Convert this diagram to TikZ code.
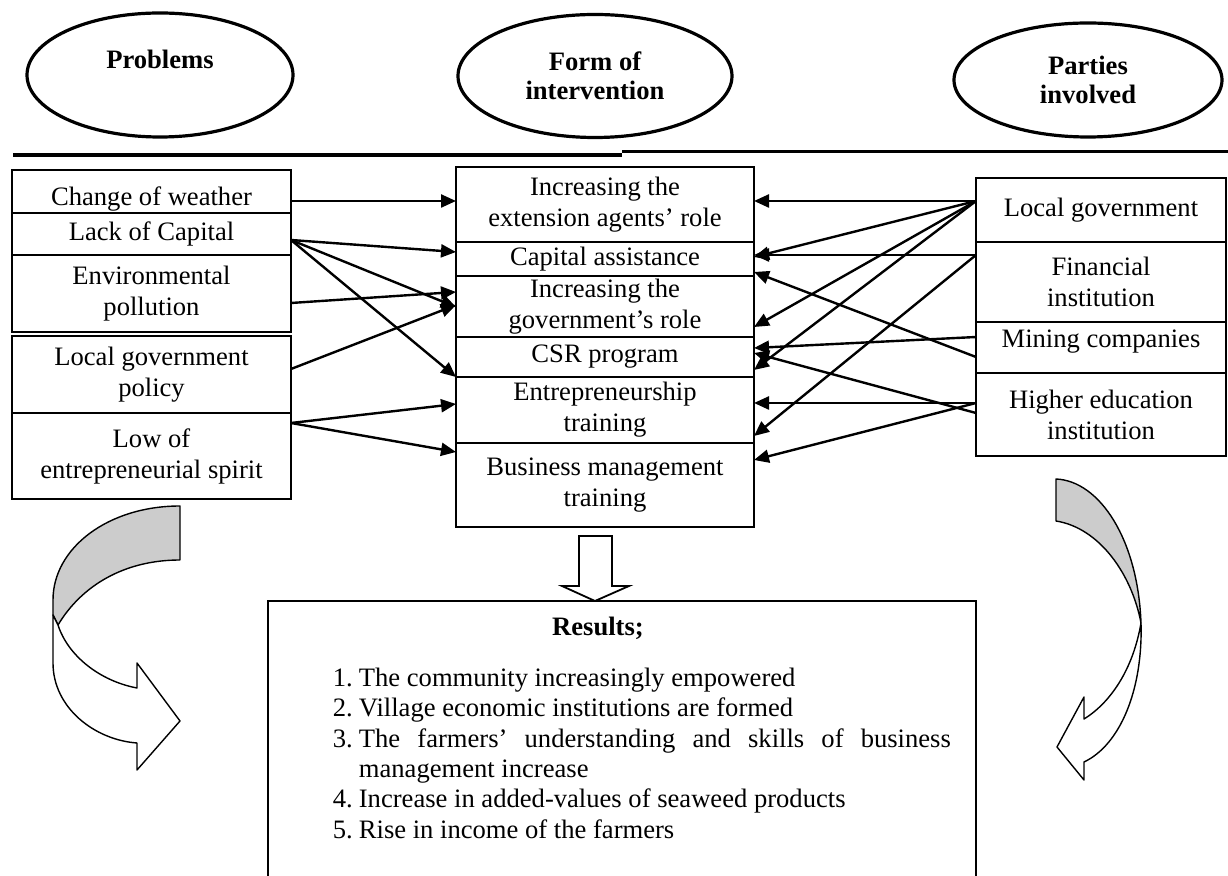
\documentclass[tikz,border=0pt]{standalone}
\usepackage{fontspec}
\setmainfont{Liberation Serif}
\usetikzlibrary{shapes.geometric, arrows.meta}

\begin{document}
\begin{tikzpicture}[x = 0.5pt, y = -0.5pt, line width = 0.9pt,
    head/.style = {ellipse, draw, line width = 1.6pt, align = center,
                   font = \fontsize{13.3}{14.5}\selectfont\bfseries},
    problem/.style = {rectangle, draw, minimum width = 139.5pt, inner sep = 0pt,
                      outer sep = 0pt, align = center,
                      font = \fontsize{13.3}{15.5}\selectfont},
    form/.style = {problem, minimum width = 149pt},
    party/.style = {problem, minimum width = 125pt},
    link/.style = {-{Triangle[length = 7.5pt, width = 6.5pt]}, line width = 1.2pt},
    ribbon/.style = {draw, line width = 0.7pt, line join = round}]

  \useasboundingbox (0, 0) rectangle (1228, 876);

  % headings
  \node [head, minimum width = 133pt, minimum height = 62pt,
         text height = 9pt, text depth = 15pt] (hp) at (160, 75) {Problems};
  \node [head, minimum width = 137pt, minimum height = 61.5pt] (hf) at (595, 76) {Form of\\intervention};
  \node [head, minimum width = 134pt, minimum height = 57pt] (hi) at (1088, 80) {Parties\\involved};

  \draw [line width = 2pt] (13, 155) -- (622, 155);
  \draw [line width = 1.5pt] (622, 152) -- (1228, 152);

  % problems
  \node [problem, minimum height = 21.5pt, text height = 17.5pt, text depth = 3pt] (b1) at (151.5, 191.5) {Change of weather};
  \node [problem, minimum height = 21pt] (b2) at (151.5, 234) {Lack of Capital};
  \node [problem, minimum height = 38.5pt] (b3) at (151.5, 293.5) {Environmental\\pollution};
  \node [problem, minimum height = 38.5pt] (b4) at (151.5, 374.5) {Local government\\policy};
  \node [problem, minimum height = 43pt] (b5) at (151.5, 456) {Low of\\entrepreneurial spirit};

  % forms of intervention
  \node [form, minimum height = 37.5pt] (m1) at (605, 204.5) {Increasing the\\extension agents’ role};
  \node [form, minimum height = 17pt] (m2) at (605, 259) {Capital assistance};
  \node [form, minimum height = 30.5pt] (m3) at (605, 306.5) {Increasing the\\government’s role};
  \node [form, minimum height = 20pt] (m4) at (605, 357) {CSR program};
  \node [form, minimum height = 33pt] (m5) at (605, 410) {Entrepreneurship\\training};
  \node [form, minimum height = 42pt] (m6) at (605, 485) {Business management\\training};

  % parties
  \node [party, minimum height = 32pt] (r1) at (1101, 210) {Local government};
  \node [party, minimum height = 40pt] (r2) at (1101, 282) {Financial\\institution};
  \node [party, minimum height = 25.5pt, text height = 9.5pt, text depth = 9.5pt] (r3) at (1101, 347.5) {Mining companies};
  \node [party, minimum height = 41.5pt] (r4) at (1101, 414.5) {Higher education\\institution};

  % problems -> forms
  \draw [link] (b1.east |- 0, 201) -- (m1.west |- 0, 201);
  \draw [link] (b2.east |- 0, 240) -- (m2.west |- 0, 252);
  \draw [link] (b2.east |- 0, 240) -- (m3.west |- 0, 307);
  \draw [link] (b2.east |- 0, 240) -- (m5.west |- 0, 377);
  \draw [link] (b3.east |- 0, 303) -- (m3.west |- 0, 292);
  \draw [link] (b4.east |- 0, 369) -- (m3.west |- 0, 305);
  \draw [link] (b5.east |- 0, 423) -- (m5.west |- 0, 404);
  \draw [link] (b5.east |- 0, 423) -- (m6.west |- 0, 452);

  % parties -> forms
  \draw [link] (r1.west |- 0, 201) -- (m1.east |- 0, 201);
  \draw [link] (r1.west |- 0, 201) -- (m2.east |- 0, 257);
  \draw [link] (r1.west |- 0, 201) -- (m3.east |- 0, 327);
  \draw [link] (r1.west |- 0, 201) -- (m4.east |- 0, 370);
  \draw [link] (r2.west |- 0, 255) -- (m2.east |- 0, 255);
  \draw [link] (r2.west |- 0, 255) -- (m5.east |- 0, 436);
  \draw [link] (r3.west |- 0, 337) -- (m4.east |- 0, 348);
  \draw [link] (r3.west |- 0, 357) -- (m2.east |- 0, 272);
  \draw [link] (r4.west |- 0, 413) -- (m4.east |- 0, 353);
  \draw [link] (r4.west |- 0, 403) -- (m5.east |- 0, 403);
  \draw [link] (r4.west |- 0, 403) -- (m6.east |- 0, 460);

  % curved arrows
  \draw [ribbon, fill = black!20] (180, 506) .. controls (108, 506) and (53, 548) .. (53, 600)
        -- (53, 615) -- (58, 625) .. controls (82, 585) and (125, 560) .. (180, 560) -- cycle;
  \draw [ribbon, fill = white] (53, 615) -- (53, 663) .. controls (53, 708) and (95, 740) .. (137, 743)
        -- (137, 770) -- (180, 721) -- (137, 663) -- (137, 688)
        .. controls (100, 681) and (68, 656) .. (58, 625) -- cycle;

  \draw [ribbon, fill = black!20] (1056, 479) .. controls (1100, 481) and (1138, 540) .. (1141, 623)
        .. controls (1132, 575) and (1100, 528) .. (1056, 521) -- cycle;
  \draw [ribbon, fill = white] (1141, 623) .. controls (1143, 690) and (1120, 745) .. (1084, 762)
        -- (1084, 780) -- (1057, 747) -- (1084, 697) -- (1084, 719)
        .. controls (1110, 703) and (1133, 670) .. (1141, 623) -- cycle;

  % results
  \draw (579, 536) -- (612, 536) -- (612, 586) -- (629, 586) -- (595, 601) -- (562, 586) -- (579, 586) -- cycle;
  \node [draw, minimum width = 354pt, minimum height = 150pt, anchor = north,
         inner sep = 0pt, outer sep = 0pt] (res) at (622, 601) {};
  \node [font = \fontsize{13.3}{15.5}\selectfont\bfseries] (rt) at (598, 628) {Results;};
  \node [anchor = north west, text width = 309pt, inner sep = 0pt, align = justify,
         font = \fontsize{13.3}{15.2}\selectfont] (rl) at (332, 667)
    {\parindent = 0pt \hyphenpenalty = 10000
     \hangindent = 13pt \hangafter = 1 \makebox[13pt][l]{1.}The community increasingly empowered\par
     \hangindent = 13pt \hangafter = 1 \makebox[13pt][l]{2.}Village economic institutions are formed\par
     \hangindent = 13pt \hangafter = 1 \makebox[13pt][l]{3.}The farmers’ understanding and skills of business management increase\par
     \hangindent = 13pt \hangafter = 1 \makebox[13pt][l]{4.}Increase in added-values of seaweed products\par
     \hangindent = 13pt \hangafter = 1 \makebox[13pt][l]{5.}Rise in income of the farmers\par};

\end{tikzpicture}
\end{document}
